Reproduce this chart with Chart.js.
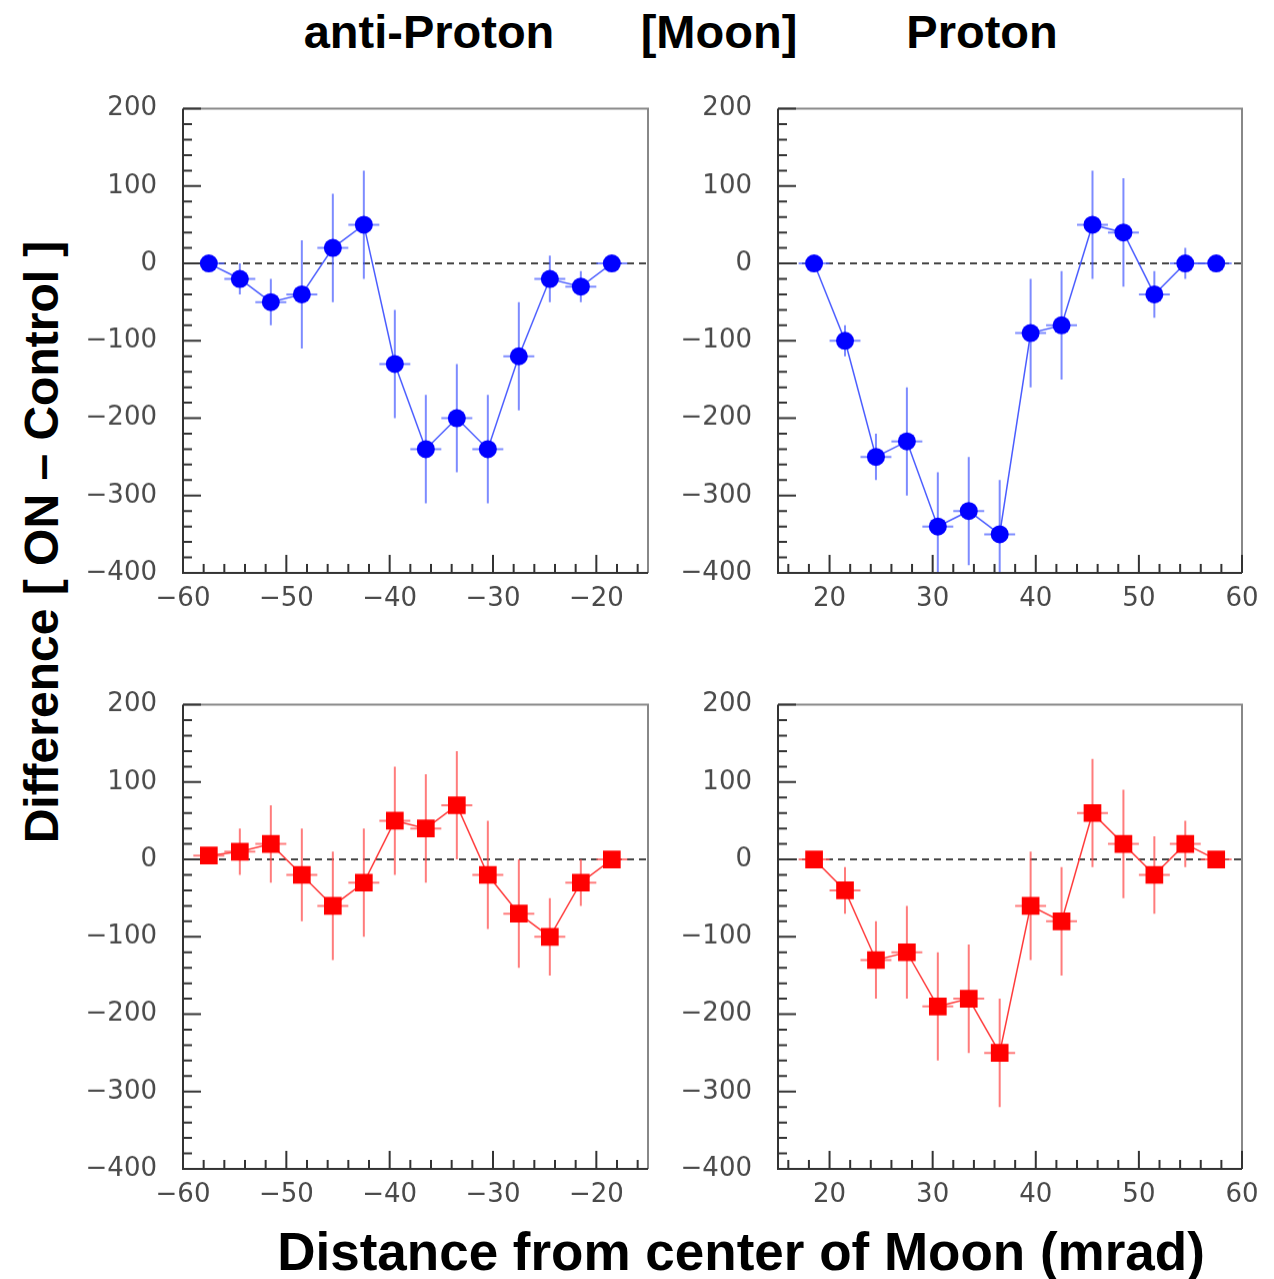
<!DOCTYPE html>
<html>
<head>
<meta charset="utf-8">
<script src="https://cdn.jsdelivr.net/npm/chart.js@4.4.0/dist/chart.umd.min.js"></script>
<style>
  body { margin: 0; background: #fff; width: 1274px; height: 1279px; position: relative; overflow: hidden;
         font-family: "Liberation Sans", Arial, sans-serif; }
  .t { position: absolute; font-weight: bold; color: #000; white-space: nowrap; line-height: 1; }
  canvas { position: absolute; }
</style>
</head>
<body>
<div class="t" style="left:429px; top:8px; font-size:47px; transform:translateX(-50%);">anti-Proton</div>
<div class="t" style="left:719px; top:8px; font-size:47px; transform:translateX(-50%);">[Moon]</div>
<div class="t" style="left:982px; top:8px; font-size:47px; transform:translateX(-50%);">Proton</div>
<div class="t" style="left:42px; top:542px; font-size:48px; transform:translate(-50%,-50%) rotate(-90deg);">Difference [ ON – Control ]</div>
<div class="t" style="left:741px; top:1225px; font-size:53px; transform:translateX(-50%);">Distance from center of Moon (mrad)</div>

<canvas id="c1"></canvas>
<canvas id="c2"></canvas>
<canvas id="c3"></canvas>
<canvas id="c4"></canvas>

<script>
// bin centres (mrad)
const xAnti = [-57.5, -54.5, -51.5, -48.5, -45.5, -42.5, -39.5, -36.5, -33.5, -30.5, -27.5, -24.5, -21.5, -18.5];
const xProton = [18.5, 21.5, 24.5, 27.5, 30.5, 33.5, 36.5, 39.5, 42.5, 45.5, 48.5, 51.5, 54.5, 57.5];
const xHalfWidth = 1.5;

// upper row (circles)
const antiTop = [0, -20, -50, -40, 20, 50, -130, -240, -200, -240, -120, -20, -30, 0];
const antiTopErr = [0, 20, 30, 70, 70, 70, 70, 70, 70, 70, 70, 30, 20, 0];
const protonTop = [0, -100, -250, -230, -340, -320, -350, -90, -80, 50, 40, -40, 0, 0];
const protonTopErr = [0, 20, 30, 70, 70, 70, 70, 70, 70, 70, 70, 30, 20, 0];

// lower row (squares)
const antiBottom = [5, 10, 20, -20, -60, -30, 50, 40, 70, -20, -70, -100, -30, 0];
const antiBottomErr = [0, 30, 50, 60, 70, 70, 70, 70, 70, 70, 70, 50, 30, 0];
const protonBottom = [0, -40, -130, -120, -190, -180, -250, -60, -80, 60, 20, -20, 20, 0];
const protonBottomErr = [0, 30, 50, 60, 70, 70, 70, 70, 70, 70, 70, 50, 30, 0];

const yMin = -400, yMax = 200;

const blue = { marker: '#0000ff', line: '#4a5cff', err: 'rgba(70,90,255,0.7)', style: 'circle', r: 9 };
const red = { marker: '#ff0000', line: '#ff3a3a', err: 'rgba(255,80,80,0.75)', style: 'rect', r: 12.5 };

const PAD_L = 110, PAD_T = 20, PAD_R = 30, PAD_B = 60;

const decor = {
  id: 'decor',
  beforeDatasetsDraw(chart) {
    const { ctx, chartArea: a, scales: { x, y } } = chart;
    ctx.save();
    ctx.beginPath();
    ctx.rect(a.left, a.top, a.right - a.left, a.bottom - a.top);
    ctx.clip();

    // dashed zero line
    const y0 = y.getPixelForValue(0);
    ctx.strokeStyle = '#444';
    ctx.lineWidth = 2;
    ctx.setLineDash([7, 5]);
    ctx.beginPath();
    ctx.moveTo(a.left, y0);
    ctx.lineTo(a.right, y0);
    ctx.stroke();
    ctx.setLineDash([]);

    // error bars
    const ds = chart.data.datasets[0];
    ctx.strokeStyle = ds.errColor;
    ctx.lineWidth = 2;
    ds.data.forEach((p, i) => {
      const px = x.getPixelForValue(p.x);
      const py = y.getPixelForValue(p.y);
      const e = ds.errY[i];
      ctx.beginPath();
      ctx.moveTo(x.getPixelForValue(p.x - xHalfWidth), py);
      ctx.lineTo(x.getPixelForValue(p.x + xHalfWidth), py);
      if (e > 0) {
        ctx.moveTo(px, y.getPixelForValue(p.y + e));
        ctx.lineTo(px, y.getPixelForValue(p.y - e));
      }
      ctx.stroke();
    });
    ctx.restore();

    // frame
    ctx.save();
    ctx.lineWidth = 2;
    ctx.strokeStyle = '#888';
    ctx.beginPath();
    ctx.moveTo(a.left, a.top); ctx.lineTo(a.right, a.top); ctx.lineTo(a.right, a.bottom);
    ctx.stroke();
    ctx.strokeStyle = '#333';
    ctx.beginPath();
    ctx.moveTo(a.left, a.top); ctx.lineTo(a.left, a.bottom); ctx.lineTo(a.right, a.bottom);
    ctx.stroke();

    // inward ticks
    ctx.lineWidth = 2;
    ctx.strokeStyle = '#333';
    ctx.beginPath();
    for (let v = yMin; v <= yMax; v += 20) {
      const py = y.getPixelForValue(v);
      const len = v % 100 === 0 ? 18 : 9;
      ctx.moveTo(a.left, py); ctx.lineTo(a.left + len, py);
    }
    for (let v = Math.ceil(x.min / 2) * 2; v <= x.max; v += 2) {
      const px = x.getPixelForValue(v);
      const len = v % 10 === 0 ? 18 : 9;
      ctx.moveTo(px, a.bottom); ctx.lineTo(px, a.bottom - len);
    }
    ctx.stroke();
    ctx.restore();
  }
};

const minus = v => String(v).replace('-', '\u2212');
const tickFont = { family: '"DejaVu Sans", Verdana, sans-serif', size: 26 };

function makeConfig(xs, ys, errs, xMin, xMax, st) {
  return {
    type: 'scatter',
    data: {
      datasets: [{
        data: xs.map((x, i) => ({ x: x, y: ys[i] })),
        errY: errs,
        errColor: st.err,
        showLine: true,
        borderColor: st.line,
        borderWidth: 1.5,
        pointStyle: st.style,
        pointRadius: st.r,
        pointBackgroundColor: st.marker,
        pointBorderWidth: 0,
        pointHoverRadius: st.r
      }]
    },
    options: {
      responsive: false,
      maintainAspectRatio: false,
      animation: false,
      devicePixelRatio: 1,
      layout: { padding: { top: PAD_T, right: PAD_R, left: 0, bottom: 0 } },
      plugins: { legend: { display: false }, tooltip: { enabled: false } },
      scales: {
        x: {
          type: 'linear', min: xMin, max: xMax,
          grid: { display: false, drawTicks: false },
          border: { display: false },
          ticks: { stepSize: 10, includeBounds: false, autoSkip: false, maxRotation: 0,
                   padding: 11, color: '#4a4a4a', font: tickFont, callback: minus },
          afterFit(s) { s.height = PAD_B; }
        },
        y: {
          type: 'linear', min: yMin, max: yMax,
          grid: { display: false, drawTicks: false },
          border: { display: false },
          ticks: { stepSize: 100, autoSkip: false, padding: 26, color: '#4a4a4a', font: tickFont, callback: minus },
          afterFit(s) { s.width = PAD_L; }
        }
      }
    },
    plugins: [decor]
  };
}

function sizeCanvas(cv, w, h) {
  cv.width = w; cv.height = h;
  cv.style.width = w + 'px';
  cv.style.height = h + 'px';
}

function panel(id, area, xs, ys, errs, xMin, xMax, st) {
  const cv = document.getElementById(id);
  const w = area.r - area.l + PAD_L + PAD_R;
  const h = area.b - area.t + PAD_T + PAD_B;
  sizeCanvas(cv, w, h);

  // first pass to measure how much room the labels take, then rebuild so the
  // plot area lands exactly on the target box
  let chart = new Chart(cv, makeConfig(xs, ys, errs, xMin, xMax, st));
  let ca = chart.chartArea;
  const nw = w + (area.r - area.l) - (ca.right - ca.left);
  const nh = h + (area.b - area.t) - (ca.bottom - ca.top);
  chart.destroy();
  sizeCanvas(cv, nw, nh);
  chart = new Chart(cv, makeConfig(xs, ys, errs, xMin, xMax, st));
  ca = chart.chartArea;
  cv.style.left = (area.l - ca.left) + 'px';
  cv.style.top = (area.t - ca.top) + 'px';
}

panel('c1', { l: 183, r: 648, t: 109, b: 573 }, xAnti, antiTop, antiTopErr, -60, -15, blue);
panel('c2', { l: 778, r: 1242, t: 109, b: 573 }, xProton, protonTop, protonTopErr, 15, 60, blue);
panel('c3', { l: 183, r: 648, t: 705, b: 1169 }, xAnti, antiBottom, antiBottomErr, -60, -15, red);
panel('c4', { l: 778, r: 1242, t: 705, b: 1169 }, xProton, protonBottom, protonBottomErr, 15, 60, red);
</script>
</body>
</html>
